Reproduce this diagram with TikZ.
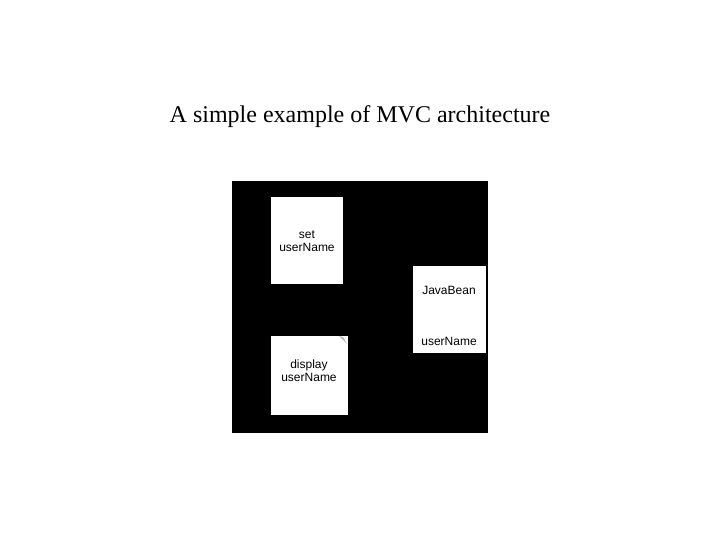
\documentclass[tikz,border=0pt]{standalone}
\usepackage{fontspec}
\setmainfont{Liberation Serif}
\newfontfamily\arialfont{Liberation Sans}
\begin{document}
\begin{tikzpicture}[x=1pt,y=-1pt,
  whitebox/.style={fill=white,draw=none},
  boxtext/.style={font=\arialfont\fontsize{12}{13}\selectfont,align=center,inner sep=0pt,text=black}]
\useasboundingbox (0,0) rectangle (720,540);
\fill[white] (0,0) rectangle (720,540);
\node[font=\fontsize{24}{26}\selectfont,inner sep=0pt] (title) at (360,117) {A simple example of MVC architecture};
\fill[black] (232,181) rectangle (488,433);
\fill[whitebox] (271,197) rectangle (343,284);
\node[boxtext] (setbox) at (307,241) {set\\userName};
\fill[whitebox] (271,336) rectangle (348,415);
\fill[gray!60] (339,336) -- (347,344) -- (343,337) -- cycle;
\node[boxtext] (dispbox) at (309,371) {display\\userName};
\fill[whitebox] (413,266) rectangle (486,353);
\node[boxtext] (bean) at (449,290) {JavaBean};
\node[boxtext] (beanuser) at (449,341) {userName};
\end{tikzpicture}
\end{document}
